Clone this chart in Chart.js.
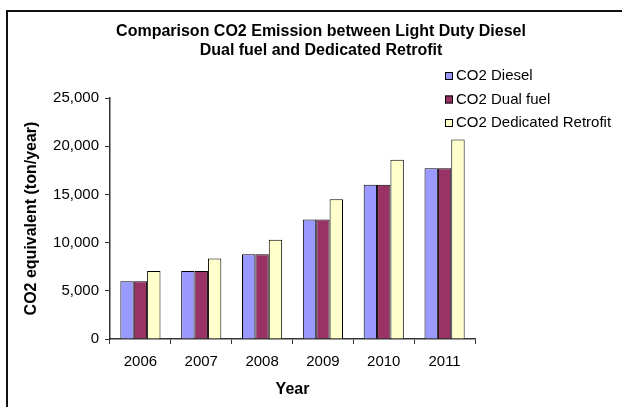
<!DOCTYPE html>
<html>
<head>
<meta charset="utf-8">
<script src="https://cdn.jsdelivr.net/npm/chart.js@4.4.1/dist/chart.umd.min.js"></script>
<style>
  html, body { margin: 0; padding: 0; background: #fff; }
  #wrap { width: 622px; height: 407px; }
</style>
</head>
<body>
<div id="wrap"><canvas id="co2Chart" width="622" height="407"></canvas></div>
<script>
const years = ['2006', '2007', '2008', '2009', '2010', '2011'];
const dieselValues = [6000, 7050, 8800, 12400, 16000, 17700];
const dualFuelValues = [6000, 7050, 8800, 12400, 16000, 17700];
const retrofitValues = [7050, 8350, 10300, 14500, 18600, 20700];
const titleLines = ['Comparison CO2 Emission between Light Duty Diesel', 'Dual fuel and Dedicated Retrofit'];
const FONT = "'Liberation Sans', Arial, sans-serif";

Chart.defaults.color = '#000';
Chart.defaults.font.family = FONT;

// outer frame, drawn first
const framePlugin = {
    id: 'frame',
    beforeDraw(chart) {
        const ctx = chart.ctx;
        ctx.save();
        ctx.fillStyle = '#fff';
        ctx.fillRect(0, 0, chart.width, chart.height);
        ctx.strokeStyle = '#111';
        ctx.lineWidth = 2;
        ctx.strokeRect(7, 11, 700, 500);
        ctx.restore();
    }
};

// two line title, centred on the whole frame
const titlePlugin = {
    id: 'twoLineTitle',
    afterDraw(chart) {
        const ctx = chart.ctx;
        ctx.save();
        ctx.font = 'bold 16px ' + FONT;
        ctx.fillStyle = '#000';
        ctx.textAlign = 'center';
        ctx.textBaseline = 'middle';
        titleLines.forEach((line, i) => ctx.fillText(line, 321, 32 + i * 19));
        ctx.restore();
    }
};

// legend floating at the top right, over the plot
const legendPlugin = {
    id: 'sideLegend',
    afterDraw(chart) {
        const ctx = chart.ctx;
        ctx.save();
        ctx.font = '15px ' + FONT;
        ctx.textBaseline = 'middle';
        ctx.textAlign = 'left';
        chart.data.datasets.forEach((ds, i) => {
            const y = 76 + i * 23.5;
            ctx.fillStyle = ds.backgroundColor;
            ctx.fillRect(445, y - 4, 8, 8);
            ctx.strokeStyle = '#000';
            ctx.lineWidth = 1;
            ctx.strokeRect(445.5, y - 3.5, 7, 7);
            ctx.fillStyle = '#000';
            ctx.fillText(ds.label, 456, y);
        });
        ctx.restore();
    }
};

const ctx = document.getElementById('co2Chart').getContext('2d');
const chart = new Chart(ctx, {
    type: 'bar',
    data: {
        labels: years,
        datasets: [
            {label: 'CO2 Diesel', data: dieselValues, backgroundColor: '#9999FF'},
            {label: 'CO2 Dual fuel', data: dualFuelValues, backgroundColor: '#993366'},
            {label: 'CO2 Dedicated Retrofit', data: retrofitValues, backgroundColor: '#FFFFCC'}
        ]
    },
    options: {
        responsive: false,
        animation: false,
        layout: {padding: {left: 22, right: 147, top: 98, bottom: 8}},
        datasets: {
            bar: {
                borderColor: '#000',
                borderWidth: 1,
                categoryPercentage: 0.66,
                barPercentage: 1.0
            }
        },
        plugins: {
            legend: {display: false},
            title: {display: false},
            tooltip: {enabled: false}
        },
        scales: {
            x: {
                offset: true,
                grid: {offset: true, drawOnChartArea: false, drawTicks: true, tickLength: 5, color: '#333'},
                border: {display: true, color: '#333', width: 1.5},
                ticks: {font: {size: 15}, padding: 9, maxRotation: 0},
                title: {display: true, text: 'Year', font: {size: 16, weight: 'bold'}, padding: 0},
                afterFit(scale) { scale.height = 60; }
            },
            y: {
                min: 0,
                max: 25000,
                grid: {drawOnChartArea: false, drawTicks: true, tickLength: 5, color: '#333'},
                border: {display: true, color: '#333', width: 1.5},
                ticks: {
                    stepSize: 5000,
                    font: {size: 15},
                    padding: 6,
                    callback: (v) => v.toLocaleString('en-US')
                },
                title: {display: true, text: 'CO2 equivalent (ton/year)', font: {size: 16, weight: 'bold'}, padding: 0},
                afterFit(scale) { scale.width = 88; }
            }
        }
    },
    plugins: [framePlugin, titlePlugin, legendPlugin]
});
</script>
</body>
</html>
